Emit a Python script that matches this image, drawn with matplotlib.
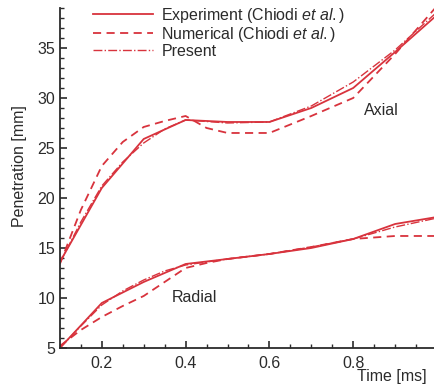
import matplotlib.pyplot as plt
from matplotlib.ticker import MultipleLocator

plt.rcParams['font.family'] = ['Liberation Sans', 'DejaVu Sans']
plt.rcParams['mathtext.fontset'] = 'custom'
plt.rcParams['mathtext.rm'] = 'Liberation Sans'
plt.rcParams['mathtext.it'] = 'Liberation Sans:italic'

# axial penetration
t_exp = [0.1, 0.2, 0.3, 0.4, 0.5, 0.6, 0.7, 0.8, 0.9, 1.0]
axial_exp = [13.6, 21.0, 25.9, 27.8, 27.6, 27.6, 29.0, 31.0, 34.6, 38.3]
t_num = [0.1, 0.15, 0.2, 0.25, 0.3, 0.35, 0.4, 0.45, 0.5, 0.6, 0.7, 0.8, 0.9, 1.0]
axial_num = [13.4, 18.8, 23.2, 25.6, 27.1, 27.7, 28.2, 27.0, 26.5, 26.5, 28.2, 30.0, 34.4, 39.2]
t_pre = [0.1, 0.15, 0.2, 0.25, 0.3, 0.35, 0.4, 0.5, 0.6, 0.7, 0.8, 0.9, 1.0]
axial_pre = [13.5, 17.6, 21.2, 23.6, 25.5, 26.9, 27.8, 27.5, 27.6, 29.2, 31.6, 34.8, 38.6]

# radial penetration
radial_exp = [5.0, 9.5, 11.6, 13.4, 13.9, 14.4, 15.0, 15.9, 17.4, 18.1]
radial_num = [5.2, 6.8, 8.1, 9.2, 10.2, 11.6, 13.0, 13.5, 13.9, 14.4, 15.1, 15.9, 16.2, 16.2]
radial_pre = [5.0, 7.2, 9.3, 10.7, 11.8, 12.7, 13.3, 13.9, 14.4, 15.1, 15.9, 17.1, 18.0]

red = '#d8333d'
dark = '#2b2b2b'

fig = plt.figure(figsize=(4.34, 3.87), dpi=100)
ax = fig.add_axes([0.138, 0.1008, 0.869, 0.8786])

ax.plot(t_exp, axial_exp, '-', color=red, lw=1.3, label='Experiment (Chiodi $\\it{et}$ $\\it{al.}$)')
ax.plot(t_num, axial_num, '--', color=red, lw=1.3, dashes=(4.5, 3), label='Numerical (Chiodi $\\it{et}$ $\\it{al.)}$')
ax.plot(t_pre, axial_pre, '-.', color=red, lw=1.0, label='Present')
ax.plot(t_exp, radial_exp, '-', color=red, lw=1.3)
ax.plot(t_num, radial_num, '--', color=red, lw=1.3, dashes=(4.5, 3))
ax.plot(t_pre, radial_pre, '-.', color=red, lw=1.0)

ax.set_xlim(0.1, 1.0)
ax.set_ylim(5, 39)
ax.xaxis.set_minor_locator(MultipleLocator(0.05))
ax.yaxis.set_major_locator(MultipleLocator(5))
ax.yaxis.set_minor_locator(MultipleLocator(1))
ax.set_xticks([0.2, 0.4, 0.6, 0.8, 1.0])
ax.set_xticklabels(['0.2', '0.4', '0.6', '0.8', '1'])
ax.tick_params(which='both', direction='in', colors=dark, labelsize=11.5, top=False, right=False)
ax.tick_params(which='major', length=5, width=1.2)
ax.tick_params(which='minor', length=3, width=1.0)
ax.tick_params(axis='x', pad=6)
for s in ['top', 'right']:
    ax.spines[s].set_visible(False)
for s in ['left', 'bottom']:
    ax.spines[s].set_linewidth(1.3)
    ax.spines[s].set_color(dark)

ax.text(0.867, 28.7, 'Axial', fontsize=11.5, color=dark, ha='center', va='center')
ax.text(0.42, 10.0, 'Radial', fontsize=11.5, color=dark, ha='center', va='center')

leg = ax.legend(loc='upper left', bbox_to_anchor=(0.07, 1.025), frameon=False, fontsize=11.5,
                handlelength=3.75, handletextpad=0.55, labelspacing=0.0, borderaxespad=0)
for txt in leg.get_texts():
    txt.set_color(dark)

fig.text(0.982, 1 - 376 / 387, 'Time [ms]', ha='right', va='center', fontsize=11.5, color=dark)
fig.text(20 / 434, 1 - 166 / 387, 'Penetration [mm]', rotation=90, ha='center', va='center',
         fontsize=11.5, color=dark)

plt.savefig('out.png', dpi=100)
